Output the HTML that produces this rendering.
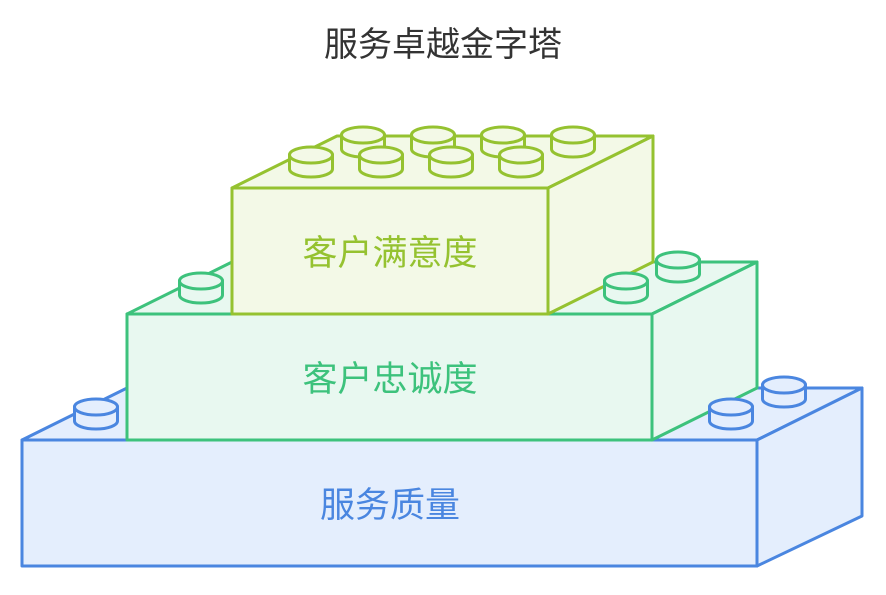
<!DOCTYPE html>
<html><head><meta charset="utf-8"><style>
body{margin:0;background:#fff;width:886px;height:590px;overflow:hidden}
text{font-family:"Liberation Sans","Noto Sans CJK SC",sans-serif}
</style></head><body>
<svg width="886" height="590" viewBox="0 0 886 590" xmlns="http://www.w3.org/2000/svg">
<defs>
<g id="st"><path d="M-21.5,0 L-21.5,14 A21.5,8 0 0 0 21.5,14 L21.5,0 Z"/><ellipse cx="0" cy="0" rx="21.5" ry="8"/></g>
</defs>
<text x="443" y="56" font-size="34" fill="#333" text-anchor="middle">服务卓越金字塔</text>
<!-- blue -->
<g fill="#e4eefd" stroke="#4a86e0" stroke-width="3" stroke-linejoin="round">
<polygon points="22,440 127,388 862,388 757,440"/>
<polygon points="757,440 862,388 862,516 757,566"/>
<rect x="22" y="440" width="735" height="126"/>
</g>
<!-- green -->
<g fill="#e8f8f0" stroke="#3dc27c" stroke-width="3" stroke-linejoin="round">
<polygon points="127,314 232,262 757,262 652,314"/>
<polygon points="652,314 757,262 757,388 652,440"/>
<rect x="127" y="314" width="525" height="126"/>
</g>
<!-- yellow-green -->
<g fill="#f3f9e7" stroke="#95c230" stroke-width="3" stroke-linejoin="round">
<polygon points="232,188 337,136 653,136 548,188"/>
<polygon points="548,188 653,136 653,262 548,314"/>
<rect x="232" y="188" width="316" height="126"/>
</g>
<g fill="#e4eefd" stroke="#4a86e0" stroke-width="3">
<use href="#st" x="96" y="407"/>
<use href="#st" x="784" y="385"/>
<use href="#st" x="731" y="407"/>
</g>
<g fill="#e8f8f0" stroke="#3dc27c" stroke-width="3">
<use href="#st" x="201" y="281"/>
<use href="#st" x="678" y="260"/>
<use href="#st" x="626" y="281"/>
</g>
<g fill="#f3f9e7" stroke="#95c230" stroke-width="3">
<use href="#st" x="363" y="135"/>
<use href="#st" x="433" y="135"/>
<use href="#st" x="503" y="135"/>
<use href="#st" x="573" y="135"/>
<use href="#st" x="311" y="155"/>
<use href="#st" x="381" y="155"/>
<use href="#st" x="451" y="155"/>
<use href="#st" x="521" y="155"/>
</g>
<text x="390" y="265" font-size="35" fill="#95c230" text-anchor="middle">客户满意度</text>
<text x="390" y="391" font-size="35" fill="#3dc27c" text-anchor="middle">客户忠诚度</text>
<text x="390" y="517" font-size="35" fill="#4a86e0" text-anchor="middle">服务质量</text>
</svg>
</body></html>
